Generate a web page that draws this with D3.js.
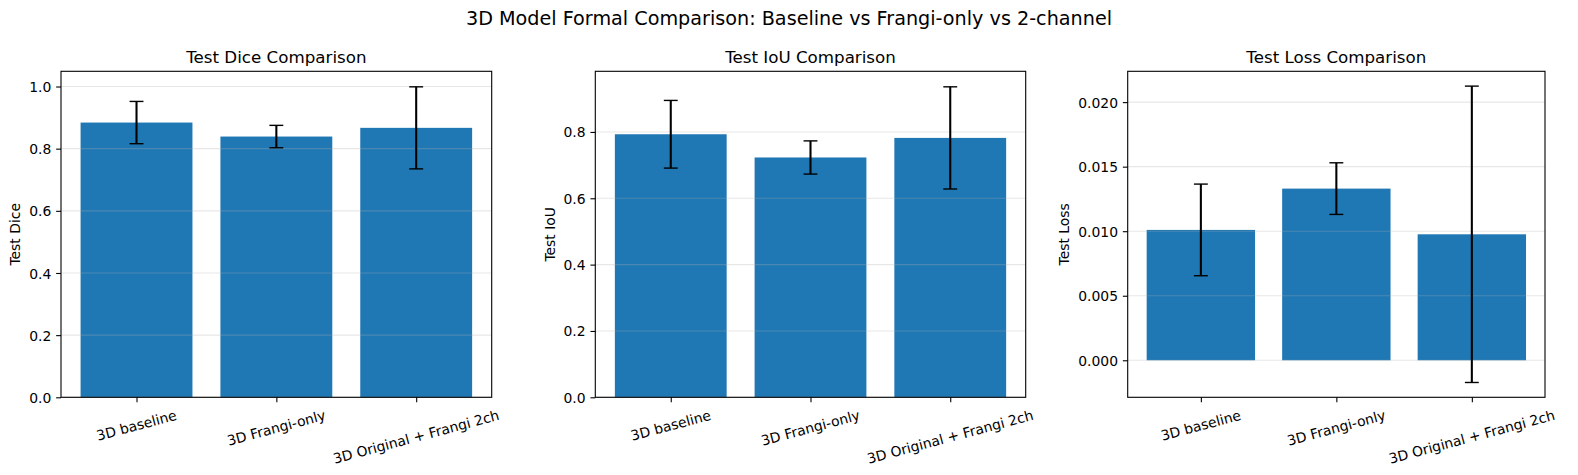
<!DOCTYPE html>
<html>
<head>
<meta charset="utf-8">
<script src="https://cdn.jsdelivr.net/npm/d3@7"></script>
<style>
  body { margin: 0; background: #fff; }
  text { font-family: "DejaVu Sans", sans-serif; fill: #000; }
</style>
</head>
<body>
<div id="chart"></div>
<script>
// Data
const models = ["3D baseline", "3D Frangi-only", "3D Original + Frangi 2ch"];

const diceMean = [0.884, 0.839, 0.867];
const diceStd  = [0.068, 0.036, 0.132];

const iouMean = [0.793, 0.723, 0.782];
const iouStd  = [0.102, 0.050, 0.154];

const lossMean = [0.0101, 0.0133, 0.00976];
const lossStd  = [0.00355, 0.0020, 0.01148];

const diceTicks = [0, 0.2, 0.4, 0.6, 0.8, 1.0];
const iouTicks  = [0, 0.2, 0.4, 0.6, 0.8];
const lossTicks = [0, 0.005, 0.010, 0.015, 0.020];

const panels = [
  { title: "Test Dice Comparison", ylabel: "Test Dice", mean: diceMean, std: diceStd, ticks: diceTicks, fmt: ".1f", x0: 61, x1: 491.7 },
  { title: "Test IoU Comparison", ylabel: "Test IoU", mean: iouMean, std: iouStd, ticks: iouTicks, fmt: ".1f", x0: 595.3, x1: 1025.7 },
  { title: "Test Loss Comparison", ylabel: "Test Loss", mean: lossMean, std: lossStd, ticks: lossTicks, fmt: ".3f", x0: 1127.7, x1: 1545 }
];

const W = 1578, H = 475;
const axTop = 71.3, axBottom = 397.3;
const tickLen = 4.86, tickPad = 4.86;
const fs = 13.9;

const svg = d3.select("#chart")
  .append("svg")
  .attr("width", W)
  .attr("height", H);

svg.append("text")
  .attr("x", W / 2)
  .attr("y", 25.3)
  .attr("text-anchor", "middle")
  .style("font-size", "19.2px")
  .text("3D Model Formal Comparison: Baseline vs Frangi-only vs 2-channel");

panels.forEach(p => {
  const g = svg.append("g");

  const lows = p.mean.map((m, i) => m - p.std[i]);
  const highs = p.mean.map((m, i) => m + p.std[i]);
  const lo = Math.min(0, d3.min(lows));
  const hi = d3.max(highs);
  const span = hi - lo;

  const y = d3.scaleLinear()
    .domain([lo < 0 ? lo - 0.05 * span : 0, hi + 0.05 * span])
    .range([axBottom, axTop]);

  // bars of width 0.8 at integer positions, 5% margins
  const x = d3.scaleLinear()
    .domain([-0.4 - 0.14, models.length - 0.6 + 0.14])
    .range([p.x0, p.x1]);

  // Bars
  g.append("g")
    .selectAll("rect")
    .data(p.mean)
    .enter()
    .append("rect")
    .attr("x", (d, i) => x(i - 0.4))
    .attr("width", (d, i) => x(i + 0.4) - x(i - 0.4))
    .attr("y", d => y(Math.max(d, 0)))
    .attr("height", d => Math.abs(y(d) - y(0)))
    .attr("fill", "#1f77b4");

  // Grid (drawn over bars)
  g.append("g")
    .selectAll("line")
    .data(p.ticks)
    .enter()
    .append("line")
    .attr("x1", p.x0).attr("x2", p.x1)
    .attr("y1", d => y(d)).attr("y2", d => y(d))
    .attr("stroke", "#b0b0b0")
    .attr("stroke-opacity", 0.3)
    .attr("stroke-width", 1.1);

  // Error bars
  const eb = g.append("g").attr("stroke", "#000");
  p.mean.forEach((m, i) => {
    const cx = x(i);
    eb.append("line")
      .attr("x1", cx).attr("x2", cx)
      .attr("y1", y(lows[i])).attr("y2", y(highs[i]))
      .attr("stroke-width", 2.08);
    [lows[i], highs[i]].forEach(v => {
      eb.append("line")
        .attr("x1", cx - 6.95).attr("x2", cx + 6.95)
        .attr("y1", y(v)).attr("y2", y(v))
        .attr("stroke-width", 1.39);
    });
  });

  // Frame
  g.append("rect")
    .attr("x", p.x0).attr("y", axTop)
    .attr("width", p.x1 - p.x0).attr("height", axBottom - axTop)
    .attr("fill", "none")
    .attr("stroke", "#000")
    .attr("stroke-width", 1.1);

  // Y axis
  const yAxis = g.append("g")
    .attr("transform", `translate(${p.x0},0)`)
    .call(d3.axisLeft(y).tickValues(p.ticks).tickFormat(d3.format(p.fmt)).tickSize(tickLen).tickPadding(tickPad));
  yAxis.select(".domain").remove();
  yAxis.selectAll(".tick line").attr("stroke-width", 1.1);
  yAxis.selectAll(".tick text")
    .style("font-size", fs + "px")
    .attr("font-family", "DejaVu Sans")
    .attr("dy", "0.36em");

  let maxW = 0;
  yAxis.selectAll(".tick text").each(function () {
    maxW = Math.max(maxW, this.getComputedTextLength());
  });

  // X axis ticks
  const xAxis = g.append("g")
    .attr("transform", `translate(0,${axBottom})`)
    .call(d3.axisBottom(x).tickValues(d3.range(models.length)).tickFormat("").tickSize(tickLen));
  xAxis.select(".domain").remove();
  xAxis.selectAll(".tick line").attr("stroke-width", 1.1);

  // Rotated category labels, bbox top aligned under ticks
  const ang = 15 * Math.PI / 180;
  models.forEach((name, i) => {
    const t = g.append("text")
      .attr("text-anchor", "middle")
      .attr("dy", "0.346em")
      .style("font-size", fs + "px")
      .text(name);
    const w = t.node().getComputedTextLength();
    const h = fs * 1.164;
    const bh = w * Math.sin(ang) + h * Math.cos(ang);
    const cx = x(i), cy = axBottom + tickLen + tickPad + bh / 2;
    t.attr("transform", `translate(${cx},${cy}) rotate(-15)`);
  });

  // Y label
  const lx = p.x0 - tickLen - tickPad - maxW - 5.56 - fs * 1.164 / 2;
  g.append("text")
    .attr("text-anchor", "middle")
    .attr("dy", "0.346em")
    .attr("transform", `translate(${lx},${(axTop + axBottom) / 2}) rotate(-90)`)
    .style("font-size", fs + "px")
    .text(p.ylabel);

  // Subplot title
  g.append("text")
    .attr("x", (p.x0 + p.x1) / 2)
    .attr("y", axTop - 8.3)
    .attr("text-anchor", "middle")
    .style("font-size", "16.7px")
    .text(p.title);
});
</script>
</body>
</html>
